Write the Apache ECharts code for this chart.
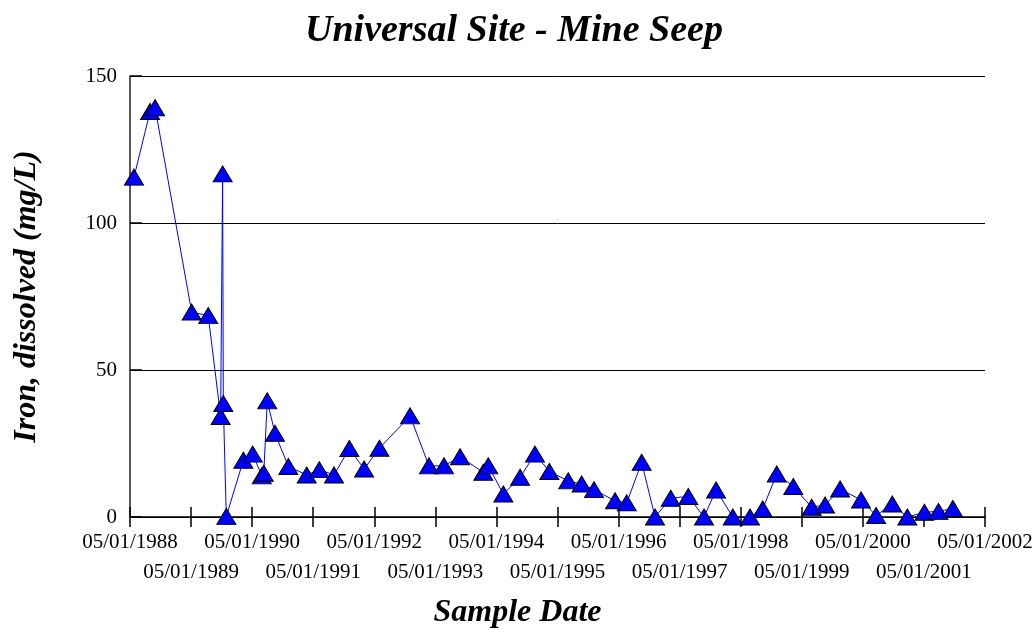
<!DOCTYPE html>
<html>
<head>
<meta charset="utf-8">
<script src="https://cdn.jsdelivr.net/npm/echarts@6/dist/echarts.min.js"></script>
<style>html,body{margin:0;padding:0;background:#fff}#c{width:1036px;height:634px}</style>
</head>
<body>
<div id="c"></div>
<script>
const sampleDates = ['1988-05-25','1988-08-29','1988-09-28','1989-05-05','1989-08-12','1989-10-25','1989-11-06','1989-11-10','1989-11-28','1990-03-10','1990-05-05','1990-06-28','1990-07-10','1990-07-31','1990-09-15','1990-12-04','1991-03-24','1991-06-07','1991-09-03','1991-12-04','1992-03-01','1992-06-01','1992-12-01','1993-03-24','1993-06-22','1993-09-26','1994-02-12','1994-03-14','1994-06-12','1994-09-20','1994-12-18','1995-03-14','1995-07-05','1995-09-23','1995-12-06','1996-04-10','1996-06-19','1996-09-16','1996-12-05','1997-03-09','1997-06-22','1997-09-24','1997-12-05','1998-03-15','1998-06-26','1998-09-10','1998-12-03','1999-03-12','1999-06-30','1999-09-18','1999-12-17','2000-04-20','2000-07-19','2000-10-24','2001-01-22','2001-05-04','2001-07-27','2001-10-21'];
const ironValues = [115.6,137.9,139.2,69.7,68.5,34.2,116.7,38.6,0.2,19.3,21.4,14.0,14.9,39.5,28.5,17.2,14.3,16.1,14.3,23.3,16.3,23.4,34.4,17.4,17.4,20.5,15.2,17.4,7.8,13.5,21.4,15.5,12.3,11.2,9.3,5.5,4.8,18.6,0,6.4,7.0,0,9.2,0,0,2.7,14.6,10.4,3.3,4.1,9.5,5.8,0.5,4.4,0,1.6,1.9,2.9];
const tickYears = [1988,1989,1990,1991,1992,1993,1994,1995,1996,1997,1998,1999,2000,2001,2002];
const yTicks = [0,50,100,150];
const titleText = 'Universal Site - Mine Seep';
const xName = 'Sample Date';
const yName = 'Iron, dissolved (mg/L)';

const FONT = '"Liberation Serif","Times New Roman",serif';
const base = Date.UTC(1988,4,1);
const YEAR = 365.25*86400000;
function toYears(s){const p=s.split('-').map(Number);return (Date.UTC(p[0],p[1]-1,p[2])-base)/YEAR;}
const data = sampleDates.map((d,i)=>[toYears(d), ironValues[i]]);

const chart = echarts.init(document.getElementById('c'), null, {renderer:'canvas'});
const xCommon = {type:'value', min:0, max:tickYears.length-1, interval:1, gridIndex:0, position:'bottom', splitLine:{show:false}};
const lblStyle = {color:'#000', fontFamily:FONT, fontSize:21, lineHeight:30, verticalAlign:'top', hideOverlap:false, showMinLabel:true, showMaxLabel:true};
function lbl(parity){
  return function(v){const i=Math.round(v);return (i%2===parity)?'05/01/'+tickYears[i]:'';};
}
chart.setOption({
  animation:false,
  backgroundColor:'#fff',
  grid:{left:130, right:51, top:76, bottom:116, containLabel:false},
  title:{text:titleText, left:300, top:7,
    textStyle:{fontFamily:FONT, fontSize:38, fontWeight:'bold', fontStyle:'italic', color:'#000'}},
  xAxis:[
    Object.assign({}, xCommon, {
      name:xName, nameLocation:'middle', nameGap:80,
      nameTextStyle:{fontFamily:FONT, fontSize:32, fontWeight:'bold', fontStyle:'italic', color:'#000', padding:[0,80,0,0]},
      axisLine:{show:true, onZero:false, lineStyle:{color:'#000', width:1.5}},
      axisTick:{show:true, inside:false, length:10, lineStyle:{color:'#000', width:1.5}},
      axisLabel:Object.assign({show:true, margin:10, formatter:lbl(0)}, lblStyle)
    }),
    Object.assign({}, xCommon, {
      axisLine:{show:false},
      axisTick:{show:true, inside:true, length:10, lineStyle:{color:'#000', width:1.5}},
      axisLabel:{show:false}
    }),
    Object.assign({}, xCommon, {
      axisLine:{show:false},
      axisTick:{show:false},
      axisLabel:Object.assign({show:true, margin:40, formatter:lbl(1)}, lblStyle)
    })
  ],
  yAxis:{
    type:'value', min:yTicks[0], max:yTicks[yTicks.length-1], interval:50,
    name:yName, nameLocation:'middle', nameGap:87, nameRotate:90,
    nameTextStyle:{fontFamily:FONT, fontSize:32, fontWeight:'bold', fontStyle:'italic', color:'#000'},
    axisLine:{show:true, lineStyle:{color:'#222', width:1.5}},
    axisTick:{show:true, inside:true, length:12, lineStyle:{color:'#000', width:1.5}},
    splitLine:{show:true, lineStyle:{color:'#000', width:1}},
    axisLabel:{color:'#000', fontFamily:FONT, fontSize:21, margin:13}
  },
  series:[{
    type:'line', xAxisIndex:0, data:data,
    lineStyle:{color:'#0000ff', width:1},
    symbol:'triangle', symbolSize:[19,16], showAllSymbol:true,
    itemStyle:{color:'#0000ff', borderColor:'#000', borderWidth:1},
    z:5
  }]
});
</script>
</body>
</html>
